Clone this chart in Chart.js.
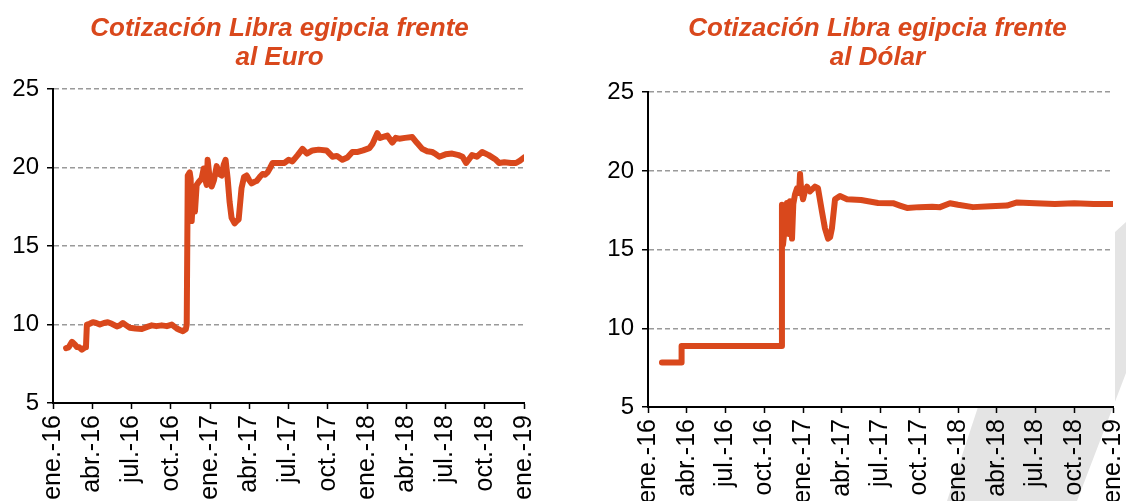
<!DOCTYPE html>
<html>
<head>
<meta charset="utf-8">
<script src="https://cdn.jsdelivr.net/npm/chart.js@4.4.0/dist/chart.umd.min.js"></script>
<style>
  body { margin: 0; background: #fff; }
  #wrap { position: relative; width: 1126px; height: 501px; overflow: hidden; }
  #band {
    position: absolute; left: 0; top: 0; width: 1126px; height: 501px;
    background: #e4e4e4;
    clip-path: polygon(947px 501px, 1077px 501px, 1126px 373px, 1126px 222px, 1115px 232px, 1040px 280px, 978px 407px);
  }
  canvas { position: absolute; top: 0; }
  #eurChart { left: 0; }
  #usdChart { left: 600px; }
</style>
</head>
<body>
<div id="wrap">
  <div id="band"></div>
  <canvas id="eurChart" width="560" height="501"></canvas>
  <canvas id="usdChart" width="556" height="501"></canvas>
</div>
<script>
// x positions are months since ene.-16
const tickLabels = ['ene.-16', 'abr.-16', 'jul.-16', 'oct.-16', 'ene.-17', 'abr.-17', 'jul.-17',
  'oct.-17', 'ene.-18', 'abr.-18', 'jul.-18', 'oct.-18', 'ene.-19'];

const eurMonths = [1.00, 1.2, 1.45, 1.65, 1.83, 2.0, 2.21, 2.45, 2.52, 2.59, 2.8, 3.05, 3.3, 3.58, 3.9,
  4.19, 4.5, 4.88, 5.1, 5.34, 5.6, 5.87, 6.3, 6.79, 7.2, 7.55, 7.9, 8.31, 8.7, 9.08, 9.46, 9.7, 9.92,
  10.15, 10.22, 10.30, 10.45, 10.52, 10.60, 10.68, 10.75, 10.85, 10.98, 11.15, 11.36, 11.52, 11.65,
  11.75, 11.82, 11.95, 12.13, 12.3, 12.51, 12.7, 12.89, 13.05, 13.19, 13.35, 13.5, 13.65, 13.88, 14.05,
  14.19, 14.41, 14.6, 14.80, 15.0, 15.18, 15.4, 15.56, 15.8, 16.02, 16.2, 16.40, 16.6, 16.78, 17.2,
  17.69, 18.0, 18.30, 18.7, 19.07, 19.4, 19.83, 20.3, 20.9, 21.36, 21.7, 22.12, 22.5, 22.88, 23.3,
  23.7, 24.18, 24.41, 24.79, 25.0, 25.17, 25.55, 25.93, 26.2, 26.47, 26.9, 27.46, 27.8, 28.22, 28.6,
  28.98, 29.2, 29.52, 30.0, 30.51, 31.0, 31.3, 31.58, 32.03, 32.4, 32.80, 33.3, 33.86, 34.09, 34.5,
  35.0, 35.39, 35.7, 36.0];
const eurRates = [8.5, 8.55, 8.9, 8.75, 8.57, 8.55, 8.4, 8.55, 8.6, 10.0, 10.05, 10.15, 10.1, 10.0, 10.1,
  10.15, 10.05, 9.88, 9.95, 10.1, 9.95, 9.8, 9.75, 9.72, 9.85, 9.95, 9.9, 9.95, 9.9, 10.0, 9.75, 9.65, 9.58,
  9.7, 10.0, 19.5, 19.7, 19.3, 16.6, 17.8, 18.5, 17.2, 18.9, 19.1, 19.3, 19.95, 19.2,
  18.9, 20.5, 19.5, 18.8, 19.2, 20.1, 19.6, 19.5, 20.2, 20.5, 19.3, 17.8, 16.8, 16.45, 16.6,
  16.7, 18.7, 19.4, 19.5, 19.2, 19.0, 19.1, 19.15, 19.4, 19.6, 19.55, 19.7, 20.0, 20.3, 20.3,
  20.3, 20.5, 20.4, 20.8, 21.2, 20.9, 21.1, 21.15, 21.1, 20.7, 20.75, 20.5, 20.65, 21.0, 21.0,
  21.1, 21.25, 21.5, 22.2, 21.9, 21.95, 22.05, 21.6, 21.9, 21.85, 21.9, 21.95, 21.6, 21.2, 21.05,
  21.0, 20.9, 20.7, 20.85, 20.9, 20.8, 20.7, 20.3, 20.8, 20.7, 21.0, 20.8, 20.5, 20.3, 20.35,
  20.3, 20.3, 20.45, 20.65];

const usdMonths = [1.08, 2.6, 2.6, 10.3, 10.37, 10.45, 10.6, 10.76, 10.9, 10.99, 11.15, 11.25, 11.38,
  11.54, 11.70, 11.77, 11.85, 12.0, 12.15, 12.31, 12.54, 12.93, 13.16, 13.47, 13.70, 13.94, 14.1,
  14.24, 14.48, 14.86, 15.41, 16.5, 17.81, 18.97, 19.5, 20.05, 21.0, 22.0, 22.61, 23.38, 24.0, 25.16,
  26.5, 27.79, 28.57, 30.0, 31.5, 33.0, 34.5, 36.0];
const usdRates = [7.83, 7.83, 8.88, 8.88, 17.85, 15.3, 16.5, 17.96, 16.0, 18.07, 15.7, 17.9, 18.5,
  18.9, 18.6, 19.8, 18.9, 18.2, 18.7, 19.0, 18.7, 19.0, 18.9, 17.4, 16.35, 15.7, 15.8,
  16.35, 18.2, 18.4, 18.2, 18.15, 17.96, 17.95, 17.8, 17.65, 17.7, 17.72, 17.7, 17.95, 17.85, 17.7,
  17.75, 17.8, 18.0, 17.95, 17.9, 17.95, 17.9, 17.9];

const ORANGE = '#d9481c';
const FONT = "'Liberation Sans', Arial, sans-serif";

// white plot background so the grey band stays behind it
const plotBg = {
  id: 'plotBg',
  beforeDraw(chart) {
    const a = chart.chartArea;
    chart.ctx.save();
    chart.ctx.fillStyle = '#fff';
    chart.ctx.fillRect(a.left, a.top, a.right - a.left + 2, a.bottom - a.top);
    chart.ctx.restore();
  }
};

// nudge the title box sideways so it sits where the original one does
const titleShift = {
  id: 'titleShift',
  afterLayout(chart, args, opts) {
    if (chart.titleBlock) {
      chart.titleBlock.left += opts.dx;
      chart.titleBlock.right += opts.dx;
    }
  }
};

function makeChart(id, title, months, rates, opts) {
  const points = months.map((m, i) => ({ x: m, y: rates[i] }));
  return new Chart(document.getElementById(id), {
    type: 'line',
    data: {
      datasets: [{
        data: points,
        borderColor: ORANGE,
        borderWidth: 6,
        pointRadius: 0,
        tension: 0,
        borderJoinStyle: 'round',
        borderCapStyle: 'round'
      }]
    },
    options: {
      responsive: false,
      animation: false,
      devicePixelRatio: 1,
      layout: { padding: { left: 0, right: opts.padRight, top: 0, bottom: 0 } },
      plugins: {
        legend: { display: false },
        tooltip: { enabled: false },
        titleShift: { dx: opts.titleDx },
        title: {
          display: true,
          text: title,
          color: ORANGE,
          font: { family: FONT, size: 26, weight: 'bold', style: 'italic', lineHeight: 1.12 },
          padding: { top: 14, bottom: opts.titleBottom }
        }
      },
      scales: {
        x: {
          type: 'linear',
          min: 0,
          max: 36,
          afterFit: s => { s.height = opts.xHeight; },
          ticks: {
            stepSize: 3,
            autoSkip: false,
            minRotation: 90,
            maxRotation: 90,
            padding: 6,
            color: '#000',
            font: { family: FONT, size: 25 },
            callback: v => tickLabels[Math.round(v / 3)]
          },
          grid: { drawOnChartArea: false, drawTicks: true, tickLength: 6, tickColor: '#000', tickWidth: 1.5 },
          border: { color: '#000', width: 2 }
        },
        y: {
          min: 5,
          max: 25,
          afterFit: s => { s.width = opts.yWidth; },
          ticks: { stepSize: 5, padding: 8, color: '#000', font: { family: FONT, size: 24 } },
          grid: {
            color: c => (c.tick && c.tick.value === 5 ? 'rgba(0,0,0,0)' : '#9a9a9a'),
            lineWidth: 1.5,
            tickLength: 6,
            tickColor: '#000',
            tickWidth: 1.5,
            tickBorderDash: []
          },
          border: { color: '#000', width: 2, dash: [5, 3] }
        }
      }
    },
    plugins: [plotBg, titleShift]
  });
}

makeChart('eurChart', ['Cotización Libra egipcia frente', 'al Euro'], eurMonths, eurRates,
  { padRight: 35, titleBottom: 17, xHeight: 98, yWidth: 53, titleDx: 17 });
makeChart('usdChart', ['Cotización Libra egipcia frente', 'al Dólar'], usdMonths, usdRates,
  { padRight: 43, titleBottom: 20, xHeight: 94, yWidth: 48, titleDx: 21 });
</script>
</body>
</html>
